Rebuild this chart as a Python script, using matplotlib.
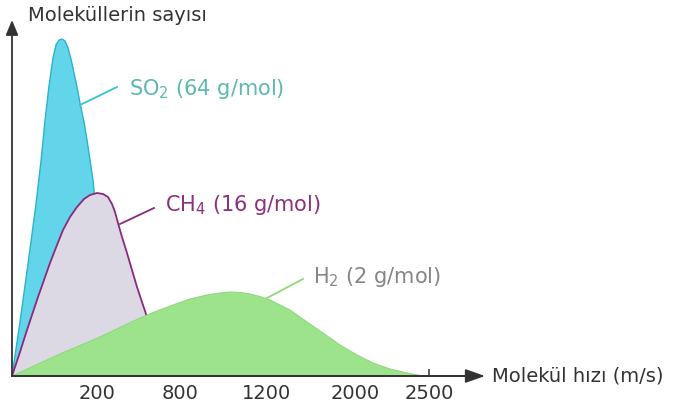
import matplotlib
matplotlib.use("Agg")
import matplotlib.pyplot as plt

plt.rcParams["font.family"] = ["DejaVu Sans"]
plt.rcParams["mathtext.default"] = "regular"

# curve outlines (x = position along speed axis, y = number of molecules)
so2_x = [0, 8, 16, 24, 29, 33, 37, 41, 44, 47, 50, 53, 56, 59, 62, 65, 68, 72, 75, 78, 81, 83, 86, 91, 98, 108, 120, 128]
so2_y = [0, 54, 112, 172, 215, 255, 290, 318, 331, 336, 337, 335, 328, 317, 303, 289, 273, 254, 236, 216, 196, 176, 141, 101, 61, 26, 4, 0]

ch4_x = [0, 8, 15, 26, 38, 45, 51, 58, 65, 72, 78, 85, 91, 96, 100, 103, 106, 110, 115, 120, 125, 130, 135, 143, 153, 168]
ch4_y = [0, 24, 46, 79, 113, 131, 146, 159, 169, 177, 181, 183, 182, 179, 172, 164, 153, 139, 123, 106, 89, 74, 59, 36, 16, 0]

h2_x = [0, 48, 88, 128, 145, 161, 178, 195, 208, 218, 228, 238, 248, 258, 268, 278, 295, 311, 328, 345, 361, 378, 395, 411]
h2_y = [0, 22, 39, 58, 65, 71, 77, 81, 83, 84, 83.5, 82, 79.5, 76, 71, 66, 54, 43, 31, 21, 13, 7, 3, 0]

tick_pos = [85, 168, 255, 343, 417]
tick_labels = ["200", "800", "1200", "2000", "2500"]

fig = plt.figure(figsize=(6.76, 4.09), dpi=100)
ax = fig.add_axes([0, 0, 1, 1])
ax.set_xlim(-12, 664)
ax.set_ylim(-33, 376)

ax.fill(so2_x, so2_y, facecolor="#62d5ea", edgecolor="#2ab3cb", lw=1.0, joinstyle="round", zorder=2)
ax.fill(ch4_x, ch4_y, facecolor="#dcd9e5", edgecolor="#8a2a7c", lw=1.3, joinstyle="round", zorder=3)
ax.fill(h2_x, h2_y, facecolor="#9de38c", edgecolor="#8ed97c", lw=0.8, joinstyle="round", zorder=4)

# leader lines + labels
ax.plot([68, 105], [271, 289], color="#34c3d3", lw=1.3, zorder=5)
ax.plot([108, 142], [152, 168], color="#8a2a7c", lw=1.3, zorder=5)
ax.plot([255, 291], [78, 97], color="#8ed97a", lw=1.3, zorder=5)
ax.text(117, 281, "SO$_2$ (64 g/mol)", fontsize=15, color="#5cb8b0")
ax.text(153, 165, "CH$_4$ (16 g/mol)", fontsize=15, color="#8c2f7e")
ax.text(301, 93, "H$_2$ (2 g/mol)", fontsize=15, color="#858585")

# axes
for s in ["top", "right", "left"]:
    ax.spines[s].set_visible(False)
ax.spines["bottom"].set_position(("data", 0))
ax.spines["bottom"].set_bounds(0, 460)
ax.spines["bottom"].set_color("#333333")
ax.spines["bottom"].set_linewidth(1.3)
ax.spines["bottom"].set_zorder(6)
ax.set_xticks(tick_pos)
ax.set_xticklabels(tick_labels, fontsize=14, color="#333333")
ax.tick_params(axis="x", direction="in", length=5, width=1.1, color="#333333", pad=6)
ax.set_yticks([])

ax.annotate("", xy=(0, 356), xytext=(0, 0),
            arrowprops=dict(arrowstyle="-|>,head_length=0.65,head_width=0.27",
                            mutation_scale=14, lw=1.3, color="#333333",
                            shrinkA=0, shrinkB=0), zorder=6)
ax.annotate("", xy=(473, 0), xytext=(0, 0),
            arrowprops=dict(arrowstyle="-|>,head_length=0.85,head_width=0.3",
                            mutation_scale=14, lw=1.3, color="#333333",
                            shrinkA=0, shrinkB=0), zorder=6)

ax.text(16, 355, "Moleküllerin sayısı", fontsize=14, color="#333333")
ax.text(480, -6, "Molekül hızı (m/s)", fontsize=14, color="#333333")

fig.savefig("out.png", dpi=100)
